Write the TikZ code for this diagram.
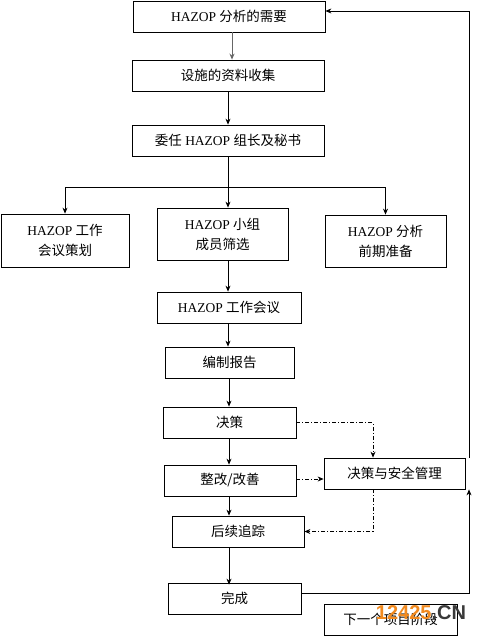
\documentclass[tikz,border=0pt]{standalone}
\usepackage{fontspec}
\setmainfont{Liberation Serif}
\newfontfamily\cjk{Noto Sans CJK SC}
\newfontfamily\wmfont{Liberation Sans}
\usetikzlibrary{arrows.meta}
\begin{document}
\begin{tikzpicture}[x=1pt,y=-1pt,
  box/.style={draw,line width=0.8pt,inner sep=0pt,align=center,
    font=\fontsize{13.5}{20}\selectfont},
  arr/.style={line width=0.7pt,-{Stealth[length=6pt,width=5pt]}},
  ln/.style={line width=0.7pt},
  dd/.style={line width=0.7pt,dash pattern=on 4pt off 2pt on 1pt off 2pt}]
\useasboundingbox (0,0) rectangle (481,636);
\fill[white] (0,0) rectangle (481,636);
\node[box,minimum width=192pt,minimum height=31pt] (b1) at (229,16.5) {HAZOP {\cjk 分析的需要}};
\node[box,minimum width=192pt,minimum height=31pt] (b2) at (228,75.5) {\cjk 设施的资料收集};
\node[box,minimum width=192pt,minimum height=31pt] (b3) at (228,140.5) {{\cjk 委任} HAZOP {\cjk 组长及秘书}};
\node[box,minimum width=128pt,minimum height=53pt] (lf) at (65,240.5) {HAZOP {\cjk 工作}\\{\cjk 会议策划}};
\node[box,minimum width=131pt,minimum height=52pt] (md) at (222.5,234) {HAZOP {\cjk 小组}\\{\cjk 成员筛选}};
\node[box,minimum width=121pt,minimum height=52pt] (rt) at (385.5,241) {HAZOP {\cjk 分析}\\{\cjk 前期准备}};
\node[box,minimum width=144pt,minimum height=31pt] (mt) at (229,307.5) {HAZOP {\cjk 工作会议}};
\node[box,minimum width=129pt,minimum height=31pt] (rp) at (229.5,362.5) {\cjk 编制报告};
\node[box,minimum width=133pt,minimum height=31pt] (dc) at (229.5,422.5) {\cjk 决策};
\node[box,minimum width=132pt,minimum height=31pt] (fx) at (230,480.5) {\cjk 整改/改善};
\node[box,minimum width=132pt,minimum height=31pt] (fl) at (238,531.5) {\cjk 后续追踪};
\node[box,minimum width=141pt,minimum height=31pt] (mg) at (394.5,473.5) {\cjk 决策与安全管理};
\node[box,minimum width=133pt,minimum height=31pt] (dn) at (234.5,598.5) {\cjk 完成};
\node[box,minimum width=133pt,minimum height=31pt] (nx) at (390.5,619.5) {\cjk 下一个项目阶段};
% columns
\coordinate (c232) at (232,0);
\coordinate (c228) at (228,0);
\coordinate (c229) at (229,0);
\coordinate (br) at (228,187);
\coordinate (cdd) at (373,0);
\coordinate (ctop) at (469,11);
\coordinate (cbot) at (469,593);
% main flow
\draw[arr,draw=gray!80!black,line width=1pt] (b1.south -| c232) -- (b2.north -| c232);
\draw[arr] (b2.south -| c228) -- (b3.north -| c228);
\draw[ln] (b3.south -| c228) -- (br);
\draw[arr] (br) -| (lf.north);
\draw[arr] (br) -| (rt.north);
\draw[arr] (br) -- (md.north -| br);
\draw[arr] (md.south -| c228) -- (mt.north -| c228);
\draw[arr] (mt.south -| c228) -- (rp.north -| c228);
\draw[arr] (rp.south -| c229) -- (dc.north -| c229);
\draw[arr] (dc.south -| c229) -- (fx.north -| c229);
\draw[arr] (fx.south -| c229) -- (fl.north -| c229);
\draw[arr] (fl.south -| c229) -- ([yshift=-2pt]dn.north -| c229);
% dash-dot
\draw[dd,arr] (dc.east) -| (mg.north -| cdd);
\draw[dd,arr] (fx.east |- 0,479) -- (mg.west |- 0,479);
\draw[dd,arr] (mg.south -| cdd) |- (fl.east);
% feedback
\draw[arr] (cbot -| dn.east) -- (cbot) -- (mg.south -| cbot);
\draw[arr] (mg.north -| ctop) -- (ctop) -- (ctop -| b1.east);
% watermark
\node[font=\wmfont\bfseries\fontsize{20}{20}\selectfont,inner sep=0pt] (wm) at (421,613)
  {\textcolor[HTML]{F28A1E}{12425}\textcolor[HTML]{3A3A3A}{.CN}};
\end{tikzpicture}
\end{document}
